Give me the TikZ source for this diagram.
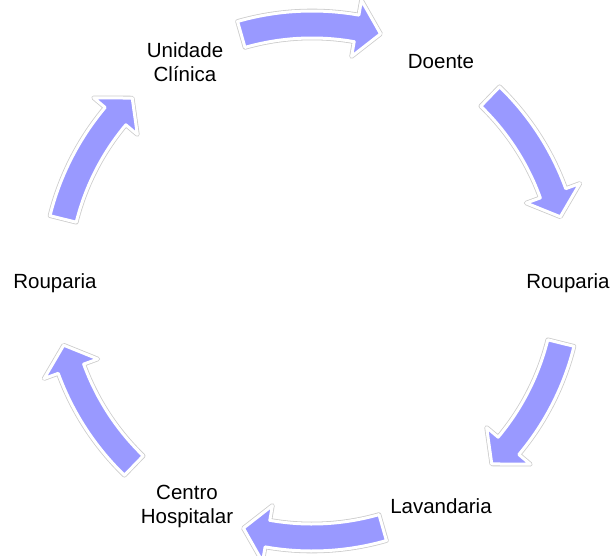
\documentclass[tikz,border=0pt]{standalone}
\usepackage{fontspec}
\setmainfont{Liberation Sans}
\usepackage{tikz}
\definecolor{arrowblue}{RGB}{153,153,255}
\tikzset{
  label text/.style={font=\fontsize{20.5}{24}\selectfont, align=center, inner sep=0pt},
  ring arrow/.style={fill=arrowblue, draw=white, line width=3pt, line join=round,
    preaction={draw=gray!40, line width=4.6pt, line join=round}}
}

\begin{document}
\begin{tikzpicture}[x=1pt,y=1pt]
            \useasboundingbox (-312,-274) rectangle (301,281);
            \foreach \c in {90,30,-30,-90,-150,-210}{
                \pgfmathsetmacro\ta{\c+16}
                \pgfmathsetmacro\tb{\c-10}
                \pgfmathsetmacro\tc{\c-15.5}
                \path [ring arrow] (\ta:270) arc [start angle=\ta, end angle=\tb, radius=270]
                    -- (\tb:285) -- (\tc:256.5) -- (\tb:228) -- (\tb:243)
                    arc [start angle=\tb, end angle=\ta, radius=243] -- cycle;
            }
            \node [label text] (unidade) at (-127,219) {Unidade\\Clínica};
            \node [label text] (doente) at (129,219) {Doente};
            \node [label text] (roupariadir) at (256,-2) {Rouparia};
            \node [label text] (lavandaria) at (129,-225) {Lavandaria};
            \node [label text] (centro) at (-125,-225) {Centro\\Hospitalar};
            \node [label text] (roupariaesq) at (-257,-2) {Rouparia};
        \end{tikzpicture}
\end{document}
